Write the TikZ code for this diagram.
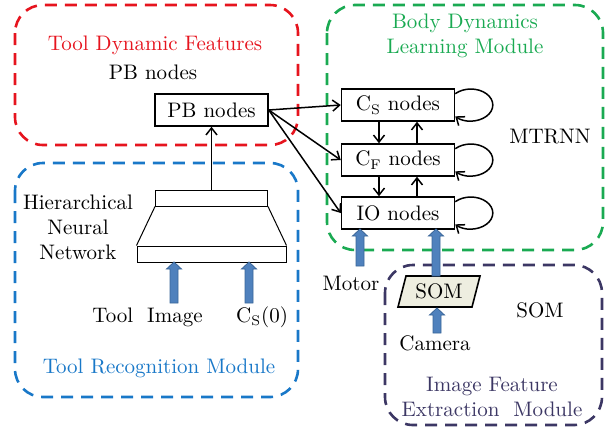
\documentclass[tikz,border=0pt]{standalone}
\usetikzlibrary{arrows.meta,calc}
\definecolor{cred}{HTML}{E6141E}
\definecolor{cgreen}{HTML}{1AAA52}
\definecolor{cblue}{HTML}{1978C8}
\definecolor{cpurp}{HTML}{3C3764}
\definecolor{bfl}{HTML}{4F81BD}
\definecolor{bdk}{HTML}{3A6699}
\definecolor{somfill}{HTML}{EEEEE0}
\begin{document}
\begin{tikzpicture}[x=0.5pt,y=0.5pt,
  every node/.style={font=\fontsize{10.5}{12.5}\selectfont, inner sep=0pt},
  modbox/.style={line width=1.3pt, dash pattern=on 6pt off 4pt, rounded corners=14pt},
  nodebox/.style={draw, line width=0.75pt, minimum width=56.5pt, minimum height=16pt},
  netbar/.style={draw, line width=0.5pt, minimum height=8pt},
  conn/.style={line width=0.75pt, -{Straight Barb[length=3.5pt,width=5.5pt]}},
  pics/barrow/.style={code={
    \filldraw[draw=bdk, fill=bfl, line width=0.4pt]
      (-4,0) -- (-4,{#1-7}) -- (-7.5,{#1-7}) -- (0,#1) -- (7.5,{#1-7}) -- (4,{#1-7}) -- (4,0) -- cycle;}}]
\useasboundingbox (0,0) rectangle (609,-430);

% module boxes
\draw[modbox, cred] (15,-5) rectangle (298,-145);
\draw[modbox, cgreen] (327,-5) rectangle (603,-250);
\draw[modbox, cblue] (15,-163) rectangle (298,-397);
\draw[modbox, cpurp] (385,-265) rectangle (602,-425);

% titles
\node[text=cred] (tdf) at (155,-45) {Tool Dynamic Features};
\node (pblab) at (153,-72) {PB nodes};
\node[text=cgreen, align=center] (bdm) at (465,-35.5) {Body Dynamics\\Learning Module};
\node (mtrnn) at (550,-137) {MTRNN};
\node[align=center] (hnn) at (78,-227) {Hierarchical\\Neural\\Network};
\node (toolimg) at (147.5,-317) {Tool~~Image};
\node (cs0) at (262,-317) {C$_{\mathrm{S}}$(0)};
\node[text=cblue] (trm) at (159,-368) {Tool Recognition Module};
\node (motor) at (351,-283) {Motor};
\node (camera) at (435,-343) {Camera};
\node (somlab) at (540,-310) {SOM};
\node[text=cpurp, align=center] (ifem) at (492,-397) {Image Feature\\Extraction~~Module};

% node boxes
\node[nodebox] (pb) at (211.5,-110) {PB nodes};
\node[nodebox] (cs) at (398,-105) {C$_{\mathrm{S}}$ nodes};
\node[nodebox] (cf) at (398,-160) {C$_{\mathrm{F}}$ nodes};
\node[nodebox] (io) at (398,-213) {IO nodes};

% hierarchical network
\node[netbar, minimum width=56pt] (hnt) at (211.5,-198) {};
\node[netbar, minimum width=74.5pt] (hnb) at (211.5,-254) {};
\draw[line width=0.5pt] (hnt.south west) -- (hnb.north west);
\draw[line width=0.5pt] (hnt.south east) -- (hnb.north east);
\draw[conn] (hnt.north) -- (pb.south);

% SOM
\filldraw[draw=black, fill=somfill, line width=0.8pt] (398,-307) -- (406,-276) -- (480,-276) -- (472,-307) -- cycle;
\node (som) at (439,-291.5) {SOM};

% connectors
\draw[conn] (pb.east) -- (cs.west);
\draw[conn] (pb.east) -- (cf.west);
\draw[conn] (pb.east) -- (io.west);
\draw[conn] ($(cs.south)+(-19,0)$) -- ($(cf.north)+(-19,0)$);
\draw[conn] ($(cf.north)+(19,0)$) -- ($(cs.south)+(19,0)$);
\draw[conn] ($(cf.south)+(-19,0)$) -- ($(io.north)+(-19,0)$);
\draw[conn] ($(io.north)+(19,0)$) -- ($(cf.south)+(19,0)$);
\foreach \n in {cs,cf,io}{
  \draw[conn] ($(\n.east)+(0,11.3)$) arc[start angle=135, end angle=-135, x radius=22, y radius=16];
}

% block arrows
\pic at (174,-303) {barrow=41};
\pic at (249,-303) {barrow=41};
\pic at (360,-266) {barrow=37};
\pic at (436,-276) {barrow=47};
\pic at (437,-333) {barrow=25};
\end{tikzpicture}
\end{document}
